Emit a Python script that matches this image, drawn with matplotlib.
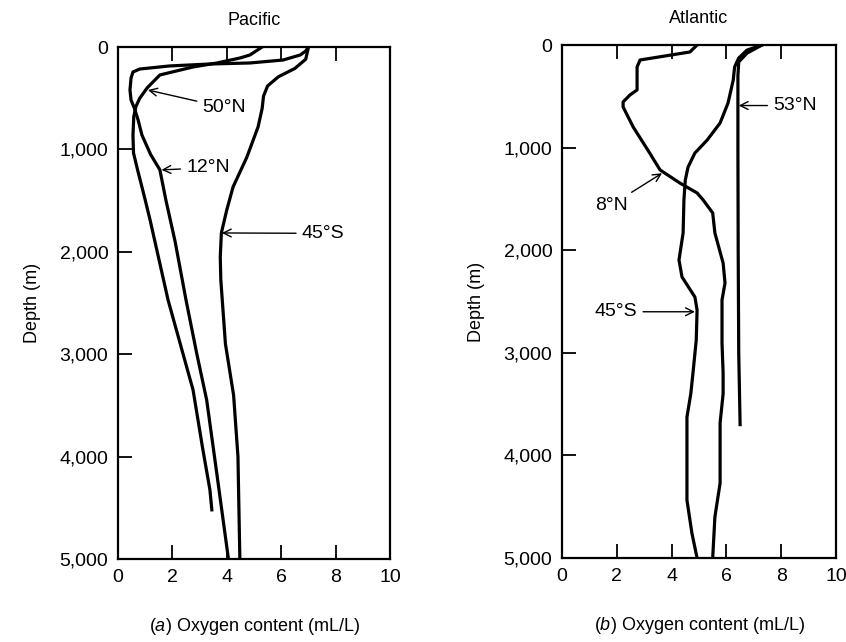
import matplotlib
matplotlib.use("Agg")
import matplotlib.pyplot as plt
from matplotlib.ticker import FixedLocator, FuncFormatter

plt.rcParams['font.family'] = ['Liberation Sans', 'DejaVu Sans']
plt.rcParams['mathtext.fontset'] = 'custom'
plt.rcParams['mathtext.it'] = 'Liberation Sans:italic'
plt.rcParams['mathtext.rm'] = 'Liberation Sans'

# ---------------- data (oxygen mL/L vs depth m) ----------------
pac_50n_ox = [5.3, 4.85, 4.49, 3.64, 2.76, 1.54, 1.07, 0.8, 0.66, 0.58, 0.55, 0.57, 0.72, 0.88, 1.0, 1.18, 1.84, 2.76, 3.1, 3.38, 3.45]
pac_50n_d = [0, 78, 107, 156, 195, 273, 400, 500, 580, 680, 860, 1035, 1200, 1367, 1494, 1690, 2470, 3350, 3900, 4326, 4520]

pac_12n_ox = [7.0, 6.9, 6.7, 6.07, 4.85, 3.38, 1.9, 0.8, 0.55, 0.48, 0.44, 0.48, 0.6, 0.74, 0.88, 1.2, 1.54, 1.76, 2.1, 2.5, 2.9, 3.26, 3.63, 4.06]
pac_12n_d = [0, 40, 78, 127, 156, 166, 185, 215, 244, 303, 420, 518, 596, 713, 860, 1050, 1200, 1494, 1900, 2470, 3000, 3447, 4160, 5000]

pac_45s_ox = [7.0, 6.98, 6.9, 6.5, 5.9, 5.5, 5.35, 5.3, 5.15, 4.74, 4.23, 4.0, 3.8, 3.76, 3.78, 3.95, 4.25, 4.41, 4.48]
pac_45s_d = [0, 30, 120, 210, 290, 380, 480, 600, 780, 1074, 1367, 1590, 1816, 2050, 2275, 2900, 3400, 4000, 5000]

atl_53n_ox = [7.3, 6.75, 6.45, 6.42, 6.42, 6.43, 6.45, 6.5]
atl_53n_d = [0, 80, 165, 300, 1000, 2000, 3000, 3700]

atl_8n_ox = [4.93, 4.67, 2.85, 2.74, 2.74, 2.48, 2.23, 2.23, 2.6, 3.2, 3.58, 4.3, 4.93, 5.15, 5.5, 5.58, 5.88, 5.95, 5.84, 5.84, 5.88, 5.88, 5.77, 5.77, 5.58, 5.5]
atl_8n_d = [0, 68, 146, 214, 438, 487, 555, 604, 800, 1053, 1218, 1345, 1442, 1510, 1637, 1832, 2125, 2320, 2485, 2904, 3197, 3400, 3684, 4270, 4600, 5000]

atl_45s_ox = [7.3, 6.75, 6.45, 6.3, 6.25, 6.06, 5.77, 5.3, 4.85, 4.6, 4.5, 4.45, 4.42, 4.27, 4.38, 4.85, 4.93, 4.9, 4.78, 4.7, 4.56, 4.56, 4.74, 4.93]
atl_45s_d = [0, 50, 127, 214, 341, 565, 760, 926, 1053, 1190, 1316, 1510, 1832, 2095, 2261, 2456, 2583, 2875, 3197, 3400, 3626, 4435, 4756, 5000]

x_ticks = [0, 2, 4, 6, 8, 10]
depth_ticks = [0, 1000, 2000, 3000, 4000, 5000]

titles = ["Pacific", "Atlantic"]
xlabels = [r"$\mathit{(a)}$ Oxygen content (mL/L)", r"$\mathit{(b)}$ Oxygen content (mL/L)"]

# labels: (text, text position (ox, depth), arrow tip (ox, depth))
pac_labels = [("50°N", (3.1, 590), (1.1, 420)),
              ("12°N", (2.5, 1180), (1.6, 1200)),
              ("45°S", (6.75, 1820), (3.82, 1816))]
atl_labels = [("53°N", (7.7, 590), (6.45, 590)),
              ("8°N", (1.2, 1560), (3.65, 1250)),
              ("45°S", (1.2, 2600), (4.85, 2600))]

W, H = 846, 642
fig = plt.figure(figsize=(W / 100, H / 100), dpi=100)

def make_ax(l, r, t, b):
    return fig.add_axes([l / W, 1 - b / H, (r - l) / W, (b - t) / H])

ax1 = make_ax(118, 390, 47, 559)
ax2 = make_ax(562, 836, 45, 558)

def style(ax, title, xlabel):
    ax.set_xlim(0, 10)
    ax.set_ylim(5000, 0)
    ax.xaxis.set_major_locator(FixedLocator(x_ticks))
    ax.yaxis.set_major_locator(FixedLocator(depth_ticks))
    ax.yaxis.set_major_formatter(FuncFormatter(lambda v, p: f"{int(v):,}"))
    ax.tick_params(direction='in', length=10, width=1.3, top=True, right=False,
                   labelsize=14, pad=7)
    for s in ax.spines.values():
        s.set_linewidth(1.6)
    ax.set_title(title, fontsize=13, pad=16)
    ax.set_xlabel(xlabel, fontsize=13, labelpad=22)
    ax.set_ylabel("Depth (m)", fontsize=13, labelpad=13)

lw = 2.3
ax1.plot(pac_50n_ox, pac_50n_d, color='black', lw=lw)
ax1.plot(pac_12n_ox, pac_12n_d, color='black', lw=lw)
ax1.plot(pac_45s_ox, pac_45s_d, color='black', lw=lw)
ax2.plot(atl_53n_ox, atl_53n_d, color='black', lw=lw)
ax2.plot(atl_8n_ox, atl_8n_d, color='black', lw=lw)
ax2.plot(atl_45s_ox, atl_45s_d, color='black', lw=lw)

for ax, labels in ((ax1, pac_labels), (ax2, atl_labels)):
    for txt, pos, tip in labels:
        ax.annotate(txt, xy=tip, xytext=pos, fontsize=14, va='center', ha='left',
                    arrowprops=dict(arrowstyle='->,head_length=0.4,head_width=0.2',
                                    lw=1.0, color='black', shrinkA=2, shrinkB=0))

style(ax1, titles[0], xlabels[0])
style(ax2, titles[1], xlabels[1])

fig.savefig("out.png", dpi=100)
